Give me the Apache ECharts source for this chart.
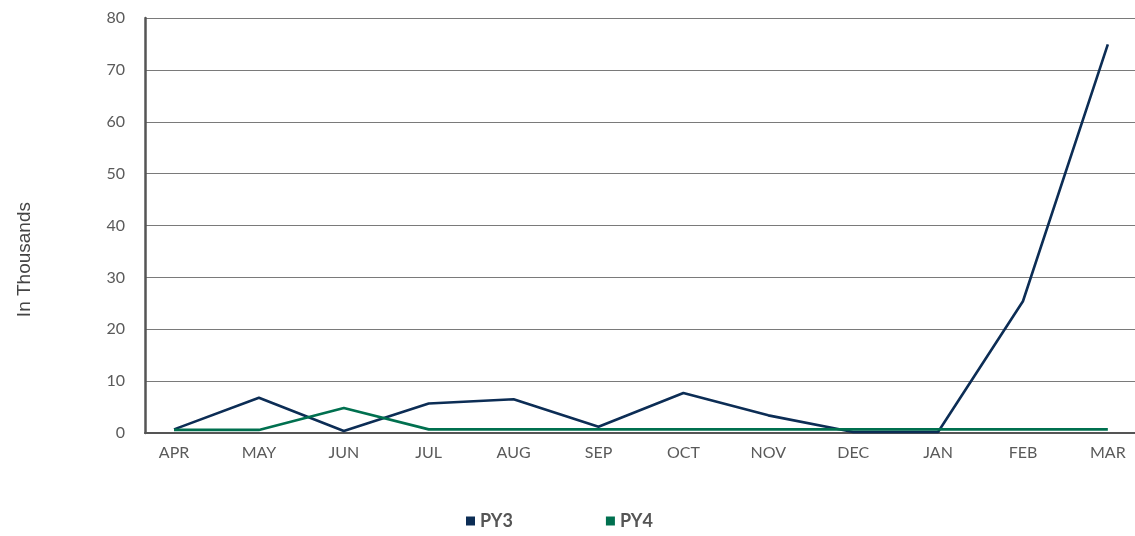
<!DOCTYPE html>
<html>
<head>
<meta charset="utf-8">
<script src="https://cdn.jsdelivr.net/npm/echarts@6/dist/echarts.min.js"></script>
<style>html,body{margin:0;padding:0;background:#fff}#c{width:1135px;height:536px}</style>
</head>
<body>
<div id="c"></div>
<script>
const categories = ['APR','MAY','JUN','JUL','AUG','SEP','OCT','NOV','DEC','JAN','FEB','MAR'];
const py3 = [0.7, 6.8, 0.4, 5.7, 6.5, 1.2, 7.7, 3.4, 0.2, 0.2, 25.4, 74.9];
const py4 = [0.6, 0.6, 4.8, 0.7, 0.7, 0.7, 0.7, 0.7, 0.7, 0.7, 0.7, 0.7];
const yTicks = [0, 10, 20, 30, 40, 50, 60, 70, 80];
const seriesNames = ['PY3', 'PY4'];
const yAxisTitle = 'In Thousands';

const chart = echarts.init(document.getElementById('c'), null, {renderer: 'canvas'});
const fontFam = 'Lato, "Noto Sans", sans-serif';
const idx = categories.map((c, i) => i);
chart.setOption({
  animation: false,
  grid: {left: 145, right: 0, top: 18, bottom: 103, containLabel: false},
  graphic: [{
    type: 'text', left: 15, top: 202, rotation: Math.PI / 2,
    style: {text: yAxisTitle, fill: '#444', fontSize: 19, fontFamily: '"Liberation Sans", Arial, sans-serif'}
  }],
  xAxis: {
    type: 'value', min: -0.342, max: 11.32,
    axisLine: {show: true, onZero: true, lineStyle: {color: '#555', width: 2}},
    axisTick: {show: false},
    splitLine: {show: false},
    axisLabel: {
      customValues: idx,
      formatter: v => categories[Math.round(v)] || '',
      color: '#5a5a5a', fontSize: 16, fontFamily: fontFam, margin: 12
    }
  },
  yAxis: {
    type: 'value', min: 0, max: 80, interval: 10,
    axisLine: {show: true, onZero: false, lineStyle: {color: '#555', width: 2.5}},
    axisTick: {show: false},
    splitLine: {show: true, lineStyle: {color: '#7a7a7a', width: 1}},
    axisLabel: {color: '#5a5a5a', fontSize: 16, fontFamily: fontFam, margin: 20,
      formatter: v => yTicks.includes(v) ? String(v) : ''}
  },
  legend: {
    bottom: 1, left: 461, itemGap: 93, itemWidth: 9, itemHeight: 9,
    icon: 'rect',
    textStyle: {color: '#555', fontSize: 18, fontWeight: 'bold', fontFamily: fontFam},
    data: seriesNames
  },
  series: [
    {name: seriesNames[0], type: 'line', data: py3.map((v, i) => [i, v]), symbol: 'none',
     lineStyle: {color: '#0c2d55', width: 2.6}, itemStyle: {color: '#0c2d55'}, z: 3},
    {name: seriesNames[1], type: 'line', data: py4.map((v, i) => [i, v]), symbol: 'none',
     lineStyle: {color: '#00704f', width: 2.6}, itemStyle: {color: '#00704f'}, z: 4}
  ]
});
</script>
</body>
</html>
